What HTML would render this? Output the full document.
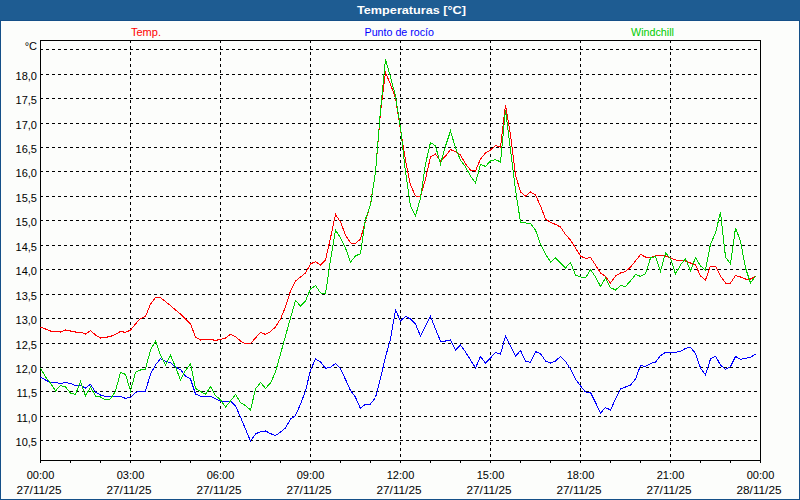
<!DOCTYPE html>
<html><head><meta charset="utf-8">
<style>
html,body{margin:0;padding:0;background:#fcfdfb;}
svg{display:block;}
.g{stroke:#000;stroke-width:1;stroke-dasharray:3 3;}
.t{font-family:"Liberation Sans",sans-serif;font-size:11px;fill:#000;}
.tb{font-family:"Liberation Sans",sans-serif;font-size:11px;font-weight:bold;}
</style></head><body>
<svg width="800" height="500" viewBox="0 0 800 500" shape-rendering="crispEdges">
<rect x="0" y="0" width="800" height="500" fill="#fcfdfb"/>
<rect x="0" y="0" width="800" height="21" fill="#1e5c92"/>
<rect x="0" y="20" width="800" height="1" fill="#144f88"/>
<rect x="0" y="20" width="1" height="480" fill="#144f88"/>
<rect x="799" y="20" width="1" height="480" fill="#144f88"/>
<rect x="0" y="499" width="800" height="1" fill="#144f88"/>
<line x1="40" y1="49.5" x2="760" y2="49.5" class="g"/>
<line x1="40" y1="74.5" x2="760" y2="74.5" class="g"/>
<line x1="40" y1="98.5" x2="760" y2="98.5" class="g"/>
<line x1="40" y1="123.5" x2="760" y2="123.5" class="g"/>
<line x1="40" y1="147.5" x2="760" y2="147.5" class="g"/>
<line x1="40" y1="171.5" x2="760" y2="171.5" class="g"/>
<line x1="40" y1="196.5" x2="760" y2="196.5" class="g"/>
<line x1="40" y1="220.5" x2="760" y2="220.5" class="g"/>
<line x1="40" y1="245.5" x2="760" y2="245.5" class="g"/>
<line x1="40" y1="269.5" x2="760" y2="269.5" class="g"/>
<line x1="40" y1="294.5" x2="760" y2="294.5" class="g"/>
<line x1="40" y1="318.5" x2="760" y2="318.5" class="g"/>
<line x1="40" y1="343.5" x2="760" y2="343.5" class="g"/>
<line x1="40" y1="367.5" x2="760" y2="367.5" class="g"/>
<line x1="40" y1="391.5" x2="760" y2="391.5" class="g"/>
<line x1="40" y1="416.5" x2="760" y2="416.5" class="g"/>
<line x1="40" y1="440.5" x2="760" y2="440.5" class="g"/>
<line x1="130.5" y1="40" x2="130.5" y2="460" class="g"/>
<line x1="220.5" y1="40" x2="220.5" y2="460" class="g"/>
<line x1="310.5" y1="40" x2="310.5" y2="460" class="g"/>
<line x1="400.5" y1="40" x2="400.5" y2="460" class="g"/>
<line x1="490.5" y1="40" x2="490.5" y2="460" class="g"/>
<line x1="580.5" y1="40" x2="580.5" y2="460" class="g"/>
<line x1="670.5" y1="40" x2="670.5" y2="460" class="g"/>
<rect x="40.5" y="40.5" width="720" height="420" fill="none" stroke="#000" stroke-width="1"/>
<line x1="40.5" y1="460" x2="40.5" y2="463" stroke="#000"/>
<line x1="70.5" y1="460" x2="70.5" y2="463" stroke="#000"/>
<line x1="100.5" y1="460" x2="100.5" y2="463" stroke="#000"/>
<line x1="130.5" y1="460" x2="130.5" y2="463" stroke="#000"/>
<line x1="160.5" y1="460" x2="160.5" y2="463" stroke="#000"/>
<line x1="190.5" y1="460" x2="190.5" y2="463" stroke="#000"/>
<line x1="220.5" y1="460" x2="220.5" y2="463" stroke="#000"/>
<line x1="250.5" y1="460" x2="250.5" y2="463" stroke="#000"/>
<line x1="280.5" y1="460" x2="280.5" y2="463" stroke="#000"/>
<line x1="310.5" y1="460" x2="310.5" y2="463" stroke="#000"/>
<line x1="340.5" y1="460" x2="340.5" y2="463" stroke="#000"/>
<line x1="370.5" y1="460" x2="370.5" y2="463" stroke="#000"/>
<line x1="400.5" y1="460" x2="400.5" y2="463" stroke="#000"/>
<line x1="430.5" y1="460" x2="430.5" y2="463" stroke="#000"/>
<line x1="460.5" y1="460" x2="460.5" y2="463" stroke="#000"/>
<line x1="490.5" y1="460" x2="490.5" y2="463" stroke="#000"/>
<line x1="520.5" y1="460" x2="520.5" y2="463" stroke="#000"/>
<line x1="550.5" y1="460" x2="550.5" y2="463" stroke="#000"/>
<line x1="580.5" y1="460" x2="580.5" y2="463" stroke="#000"/>
<line x1="610.5" y1="460" x2="610.5" y2="463" stroke="#000"/>
<line x1="640.5" y1="460" x2="640.5" y2="463" stroke="#000"/>
<line x1="670.5" y1="460" x2="670.5" y2="463" stroke="#000"/>
<line x1="700.5" y1="460" x2="700.5" y2="463" stroke="#000"/>
<line x1="730.5" y1="460" x2="730.5" y2="463" stroke="#000"/>
<line x1="760.5" y1="460" x2="760.5" y2="463" stroke="#000"/>
<polyline points="40.5,327 45.5,329 50.5,331 55.5,331 60.5,332 65.5,330 70.5,331 75.5,332 80.5,332 85.5,334 90.5,330.6 95.5,335 100.5,338 105.5,337.4 110.5,336.4 115.5,334.4 120.5,331.4 125.5,332.4 130.5,330 135.5,324 140.5,318.4 145.5,316.6 150.5,304 155.5,297.6 160.5,297.6 165.5,301.6 170.5,305.6 175.5,310 180.5,314 185.5,319 190.5,324 195.5,337 200.5,340 205.5,339.4 210.5,339.4 215.5,340.4 220.5,339.4 225.5,338 230.5,334.4 235.5,336.6 240.5,341 245.5,344 250.5,343.6 255.5,338 260.5,332.4 265.5,334.4 270.5,331.6 275.5,327 280.5,319 285.5,307 290.5,291 295.5,281 300.5,277 305.5,273 310.5,264 315.5,261.6 320.5,265 325.5,260 330.5,238 335.5,214.4 340.5,222 345.5,235 350.5,243 355.5,243.6 360.5,239 365.5,221 370.5,204 375.5,172 380.5,112 385.5,72.5 390.5,84.4 395.5,98 400.5,130 405.5,160 410.5,185 415.5,196 420.5,196.4 425.5,179 430.5,157 435.5,154 440.5,161 445.5,156 450.5,149.6 455.5,151.6 460.5,155 465.5,164 470.5,170 475.5,171 480.5,159 485.5,153 490.5,150 495.5,145.6 500.5,147 505.5,105 510.5,135 515.5,175 520.5,192 525.5,196 530.5,192 535.5,195 540.5,206 545.5,219 550.5,222.4 555.5,224.4 560.5,227 565.5,234.4 570.5,240 575.5,248 580.5,256 585.5,258.4 590.5,257.6 595.5,265 600.5,273 605.5,276.4 610.5,283 615.5,276 620.5,273 625.5,271.6 630.5,267 635.5,261 640.5,254.4 645.5,257 650.5,257.6 655.5,256 660.5,255.6 665.5,256 670.5,258 675.5,260 680.5,260.4 685.5,261 690.5,263 695.5,265 700.5,276 705.5,280 710.5,266 715.5,266 720.5,276 725.5,283 730.5,283 735.5,275.6 740.5,277 745.5,279 750.5,279 755.5,276.4" fill="none" stroke="#ff0000" stroke-width="1"/>
<polyline points="40.5,377 45.5,380 50.5,382.4 55.5,382.4 60.5,383.6 65.5,382.4 70.5,383.6 75.5,385.4 80.5,385.4 85.5,388 90.5,384.4 95.5,392 100.5,395 105.5,396.4 110.5,396.4 115.5,396.4 120.5,396.4 125.5,398.4 130.5,397.4 135.5,392.4 140.5,391 145.5,391 150.5,374 155.5,365 160.5,358.5 165.5,361.5 170.5,362.5 175.5,367 180.5,369.6 185.5,376 190.5,379 195.5,394 200.5,396.2 205.5,396.2 210.5,396.2 215.5,398.6 220.5,401.2 225.5,401.2 230.5,401.2 235.5,406 240.5,417 245.5,429 250.5,441 255.5,434 260.5,431.6 265.5,431 270.5,433.6 275.5,435.6 280.5,432 285.5,428 290.5,419 295.5,415.6 300.5,404 305.5,391 310.5,370 315.5,359 320.5,362 325.5,368.3 330.5,367.4 335.5,363.5 340.5,368.5 345.5,379.5 350.5,390.5 355.5,397.3 360.5,408.5 365.5,404 370.5,404 375.5,397.5 380.5,378 385.5,357 390.5,339 395.5,310 400.5,321 405.5,316.4 410.5,319 415.5,324 420.5,336 425.5,326 430.5,316.4 435.5,329 440.5,341 445.5,341 450.5,340 455.5,350 460.5,345 465.5,352 470.5,360 475.5,368 480.5,356.4 485.5,363 490.5,358 495.5,352.4 500.5,354 505.5,336 510.5,346 515.5,356.4 520.5,350.5 525.5,361 530.5,362.4 535.5,351.6 540.5,353.6 545.5,361 550.5,363 555.5,361 560.5,356.4 565.5,361.6 570.5,369 575.5,379 580.5,386 585.5,392 590.5,392.4 595.5,402.4 600.5,413 605.5,407.6 610.5,410 615.5,399 620.5,389 625.5,387 630.5,385 635.5,379 640.5,365.6 645.5,366.4 650.5,363.6 655.5,362 660.5,355.6 665.5,352.4 670.5,352.4 675.5,352.4 680.5,351.3 685.5,348.5 690.5,347.2 695.5,353.5 700.5,368 705.5,375 710.5,359 715.5,356.2 720.5,365 725.5,369.5 730.5,366.5 735.5,356.5 740.5,359.2 745.5,358.5 750.5,357.2 755.5,354.2" fill="none" stroke="#0000ff" stroke-width="1"/>
<polyline points="40.5,368 45.5,377 50.5,383 55.5,391 60.5,385.4 65.5,387 70.5,393 75.5,394.4 80.5,381.4 85.5,396 90.5,387 95.5,396 100.5,397 105.5,400 110.5,399 115.5,391 120.5,372.4 125.5,374.4 130.5,391 135.5,372.4 140.5,370 145.5,369 150.5,350 155.5,341 160.5,355 165.5,365 170.5,355.4 175.5,366.8 180.5,380 185.5,370.4 190.5,363.8 195.5,388.4 200.5,391.4 205.5,394.4 210.5,386.6 215.5,395.6 220.5,399.8 225.5,407 230.5,401 235.5,394.4 240.5,402.8 245.5,405.6 250.5,410 255.5,389 260.5,382.4 265.5,388.4 270.5,383 275.5,372 280.5,354 285.5,336 290.5,318 295.5,300.4 300.5,306 305.5,301 310.5,289 315.5,285.6 320.5,293 325.5,294 330.5,260 335.5,230 340.5,238 345.5,248 350.5,262 355.5,256 360.5,253.6 365.5,219 370.5,205 375.5,172 380.5,110 385.5,59.5 390.5,77 395.5,96 400.5,128 405.5,172 410.5,206 415.5,216 420.5,198 425.5,164 430.5,142.4 435.5,146 440.5,164 445.5,146 450.5,131 455.5,148 460.5,160 465.5,167 470.5,176 475.5,183 480.5,164.4 485.5,166.4 490.5,161 495.5,159.6 500.5,162 505.5,110 510.5,150 515.5,190 520.5,222 525.5,223 530.5,223.6 535.5,230 540.5,244 545.5,254 550.5,262 555.5,258 560.5,263 565.5,268 570.5,262.4 575.5,275 580.5,277 585.5,278 590.5,269.6 595.5,277 600.5,286.4 605.5,278 610.5,287.6 615.5,290 620.5,285.6 625.5,286.4 630.5,281 635.5,274.4 640.5,276.4 645.5,273.6 650.5,258 655.5,256.4 660.5,271 665.5,253 670.5,258.4 675.5,274 680.5,265 685.5,258.4 690.5,271 695.5,257.5 700.5,266 705.5,270 710.5,244 715.5,233 720.5,212 725.5,257 730.5,264 735.5,228 740.5,241 745.5,268 750.5,283 755.5,276" fill="none" stroke="#00cc00" stroke-width="1"/>
<g shape-rendering="auto">
<text x="37" y="50" text-anchor="end" class="t">°C</text>
<text x="37" y="80" text-anchor="end" class="t">18,0</text>
<text x="37" y="104" text-anchor="end" class="t">17,5</text>
<text x="37" y="129" text-anchor="end" class="t">17,0</text>
<text x="37" y="153" text-anchor="end" class="t">16,5</text>
<text x="37" y="177" text-anchor="end" class="t">16,0</text>
<text x="37" y="202" text-anchor="end" class="t">15,5</text>
<text x="37" y="226" text-anchor="end" class="t">15,0</text>
<text x="37" y="251" text-anchor="end" class="t">14,5</text>
<text x="37" y="275" text-anchor="end" class="t">14,0</text>
<text x="37" y="300" text-anchor="end" class="t">13,5</text>
<text x="37" y="324" text-anchor="end" class="t">13,0</text>
<text x="37" y="349" text-anchor="end" class="t">12,5</text>
<text x="37" y="373" text-anchor="end" class="t">12,0</text>
<text x="37" y="397" text-anchor="end" class="t">11,5</text>
<text x="37" y="422" text-anchor="end" class="t">11,0</text>
<text x="37" y="446" text-anchor="end" class="t">10,5</text>
<text x="40.5" y="479" text-anchor="middle" class="t">00:00</text>
<text x="39" y="494" text-anchor="middle" class="t" textLength="45" lengthAdjust="spacingAndGlyphs">27/11/25</text>
<text x="130.5" y="479" text-anchor="middle" class="t">03:00</text>
<text x="129" y="494" text-anchor="middle" class="t" textLength="45" lengthAdjust="spacingAndGlyphs">27/11/25</text>
<text x="220.5" y="479" text-anchor="middle" class="t">06:00</text>
<text x="219" y="494" text-anchor="middle" class="t" textLength="45" lengthAdjust="spacingAndGlyphs">27/11/25</text>
<text x="310.5" y="479" text-anchor="middle" class="t">09:00</text>
<text x="309" y="494" text-anchor="middle" class="t" textLength="45" lengthAdjust="spacingAndGlyphs">27/11/25</text>
<text x="400.5" y="479" text-anchor="middle" class="t">12:00</text>
<text x="399" y="494" text-anchor="middle" class="t" textLength="45" lengthAdjust="spacingAndGlyphs">27/11/25</text>
<text x="490.5" y="479" text-anchor="middle" class="t">15:00</text>
<text x="489" y="494" text-anchor="middle" class="t" textLength="45" lengthAdjust="spacingAndGlyphs">27/11/25</text>
<text x="580.5" y="479" text-anchor="middle" class="t">18:00</text>
<text x="579" y="494" text-anchor="middle" class="t" textLength="45" lengthAdjust="spacingAndGlyphs">27/11/25</text>
<text x="670.5" y="479" text-anchor="middle" class="t">21:00</text>
<text x="669" y="494" text-anchor="middle" class="t" textLength="45" lengthAdjust="spacingAndGlyphs">27/11/25</text>
<text x="760.5" y="479" text-anchor="middle" class="t">00:00</text>
<text x="759" y="494" text-anchor="middle" class="t" textLength="45" lengthAdjust="spacingAndGlyphs">28/11/25</text>
<text x="131" y="36" class="t" style="fill:#ff0000">Temp.</text>
<text x="364.5" y="36" class="t" style="fill:#0000ff" textLength="69.5" lengthAdjust="spacingAndGlyphs">Punto de rocío</text>
<text x="631" y="36" class="t" style="fill:#00cc00" textLength="43" lengthAdjust="spacingAndGlyphs">Windchill</text>
<text x="357" y="14" class="tb" fill="#ffffff" textLength="109" lengthAdjust="spacingAndGlyphs">Temperaturas [°C]</text>
</g>
</svg>
</body></html>
